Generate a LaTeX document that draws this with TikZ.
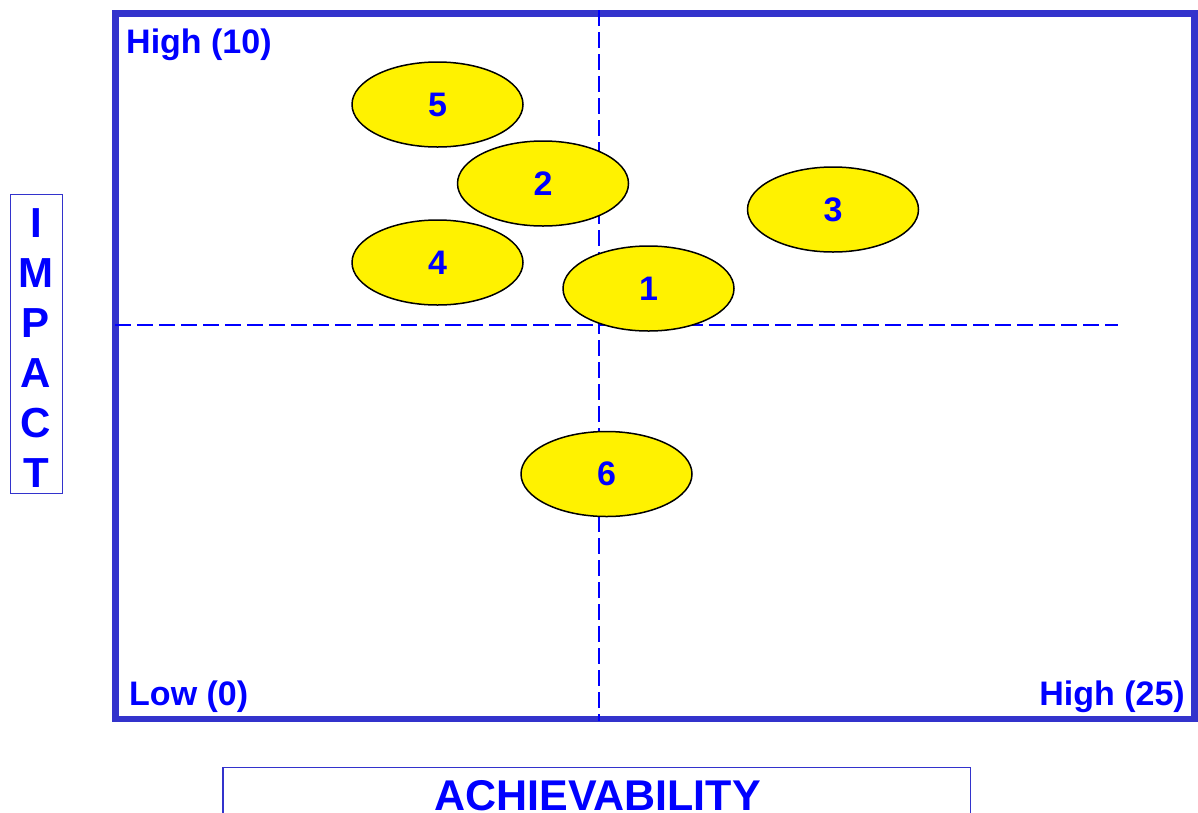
\documentclass[tikz,border=0pt]{standalone}
\usepackage{fontspec}
\setmainfont{Liberation Sans}
\newfontfamily\lsbold{Liberation Sans Bold}
\usetikzlibrary{shapes.geometric}
\definecolor{frameblue}{RGB}{51,51,204}
\definecolor{txtblue}{RGB}{0,0,255}
\begin{document}
\begin{tikzpicture}[x=1pt,y=-1pt,
  blob/.style={ellipse, draw=black, line width=1.5pt, fill=yellow, minimum width=171pt, minimum height=85pt, inner sep=0pt, text=txtblue, font=\lsbold\fontsize{34}{40}\selectfont},
  lbl/.style={text=txtblue, inner sep=0pt, font=\lsbold\fontsize{34}{40}\selectfont},
  guide/.style={txtblue, line width=1.8pt, dash pattern=on 16pt off 6pt},
  thinbox/.style={draw=frameblue, line width=1.5pt}]
\useasboundingbox (0,0) rectangle (1198,812);
\clip (0,0) rectangle (1198,812);
% main frame
\draw[frameblue, line width=6.5pt] (115.5,13.5) rectangle (1194.5,719);
% quadrant guides
\coordinate (vtop) at (599,10);
\coordinate (vbot) at (599,721);
\coordinate (hleft) at (115,325);
\coordinate (hright) at (1118,325);
\draw[guide] (vtop) -- (vbot);
\draw[guide] (hleft) -- (hright);
% axis labels inside frame
\node (hi10) [lbl, anchor=base west] at (126,53) {High (10)};
\node (lo0) [lbl, anchor=base west] at (129,705) {Low (0)};
\node (hi25) [lbl, anchor=base east] at (1185,705) {High (25)};
% items
\node (e5) [blob] at (437.5,104.5) {5};
\node (e2) [blob] at (543,183.5) {2};
\node (e3) [blob] at (833,209.5) {3};
\node (e4) [blob] at (437.5,262.5) {4};
\node (e1) [blob] at (648.5,288.5) {1};
\node (e6) [blob] at (606.5,474) {6};
% IMPACT box
\draw[thinbox] (10.5,194.5) rectangle (62.5,493.5);
\foreach \l [count=\i] in {I,M,P,A,C,T}
  \node (imp\i) [text=txtblue, inner sep=0pt, anchor=base, font=\lsbold\fontsize{42}{50}\selectfont] at (36,187+50*\i) {\l};
% ACHIEVABILITY box
\draw[thinbox] (223,767.5) rectangle (970.5,840);
\node (ach) [text=txtblue, inner sep=0pt, anchor=base, font=\lsbold\fontsize{43}{50}\selectfont] at (597.5,810) {ACHIEVABILITY};
\end{tikzpicture}
\end{document}
